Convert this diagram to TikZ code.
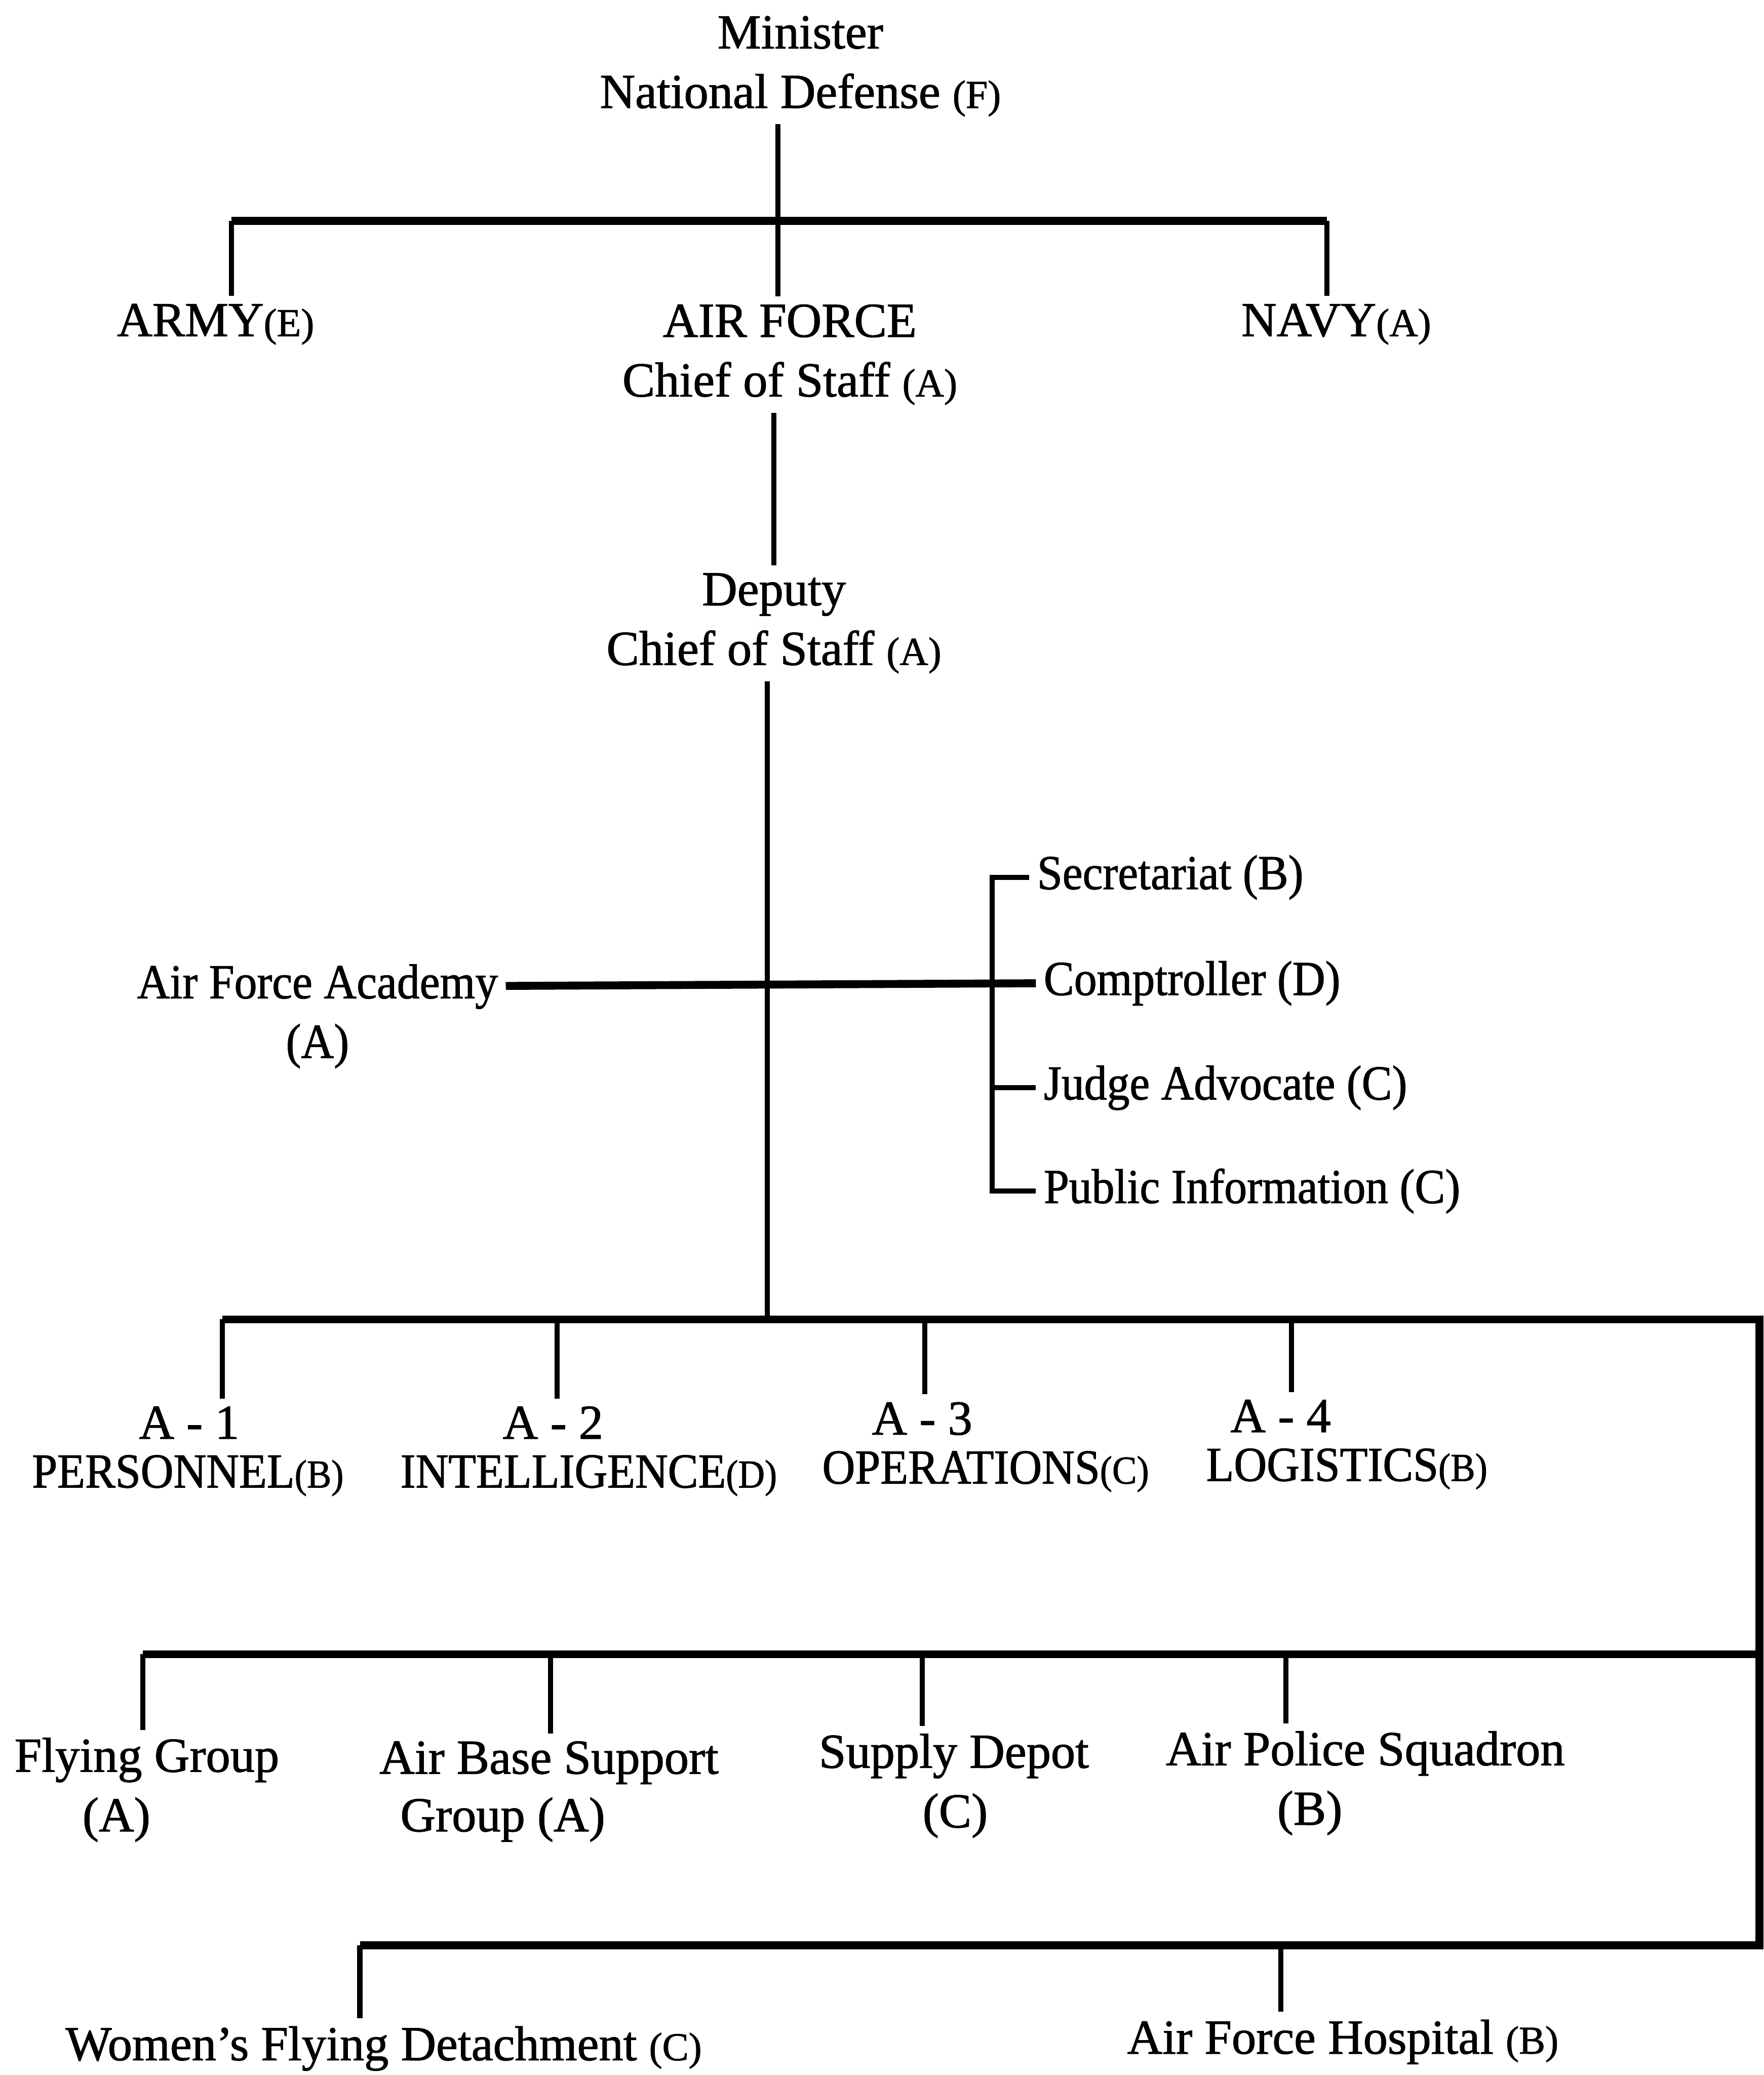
\documentclass[tikz,border=0pt]{standalone}
\usepackage{fontspec}
\setmainfont{Liberation Serif}[FakeBold=1.2]
\newfontfamily\cnd{Liberation Serif}[FakeBold=1.2,FakeStretch=0.93]
\newcommand\smp[1]{{\fontsize{8.5}{10}\selectfont #1}}
\tikzset{
  lbl/.style={font=\fontsize{10.5}{12.8}\selectfont, inner sep=1.5pt},
  clbl/.style={font=\cnd\fontsize{10.5}{12.8}\selectfont, inner sep=1.5pt},
  link/.style={line width=1.1pt},
  bus/.style={line width=1.7pt},
}
\begin{document}
\begin{tikzpicture}[x=0.01cm,y=-0.01cm]
\useasboundingbox (0,0) rectangle (1333,1568);
% nodes
\node[lbl,align=center] (min) at (605,50) {Minister\\National Defense \smp{(F)}};
\node[lbl] (army) at (163,245) {ARMY\smp{(E)}};
\node[lbl,align=center] (af) at (597,268) {AIR FORCE\\Chief of Staff \smp{(A)}};
\node[lbl] (navy) at (1010,245) {NAVY\smp{(A)}};
\node[lbl,align=center] (dep) at (585,471) {Deputy\\Chief of Staff \smp{(A)}};
\node[clbl,align=center] (acad) at (240,768) {Air Force Academy\\(A)};
\node[clbl,anchor=west] (sec) at (778,663) {Secretariat (B)};
\node[clbl,anchor=west] (comp) at (783,743) {Comptroller (D)};
\node[clbl,anchor=west] (judge) at (783,822) {Judge Advocate (C)};
\node[clbl,anchor=west] (pub) at (783,900) {Public Information (C)};
\node[lbl] (a1) at (143,1075) {A - 1};
\node[clbl] (a1n) at (142,1115) {PERSONNEL\smp{(B)}};
\node[lbl] (a2) at (418,1075) {A - 2};
\node[clbl] (a2n) at (445,1115) {INTELLIGENCE\smp{(D)}};
\node[lbl] (a3) at (697,1072) {A - 3};
\node[clbl] (a3n) at (745,1112) {OPERATIONS\smp{(C)}};
\node[lbl] (a4) at (968,1070) {A - 4};
\node[clbl] (a4n) at (1018,1110) {LOGISTICS\smp{(B)}};
\node[lbl] (fly) at (111,1330) {Flying Group};
\node[lbl] (flyb) at (88,1375) {(A)};
\node[lbl] (base) at (415,1332) {Air Base Support};
\node[lbl] (baseb) at (380,1375) {Group (A)};
\node[lbl] (sup) at (721,1327) {Supply Depot};
\node[lbl] (supb) at (722,1372) {(C)};
\node[lbl] (pol) at (1032,1325) {Air Police Squadron};
\node[lbl] (polb) at (990,1370) {(B)};
\node[lbl] (wom) at (290,1548) {Women's Flying Detachment \smp{(C)}};
\node[lbl] (hosp) at (1015,1543) {Air Force Hospital \smp{(B)}};
% junctions
\coordinate (t0) at (588,167);
\coordinate (tL) at (175,167);
\coordinate (tR) at (1003,167);
\coordinate (c1) at (585,400);
\coordinate (m) at (580,997);
\coordinate (br) at (750,745);
\coordinate (b2L) at (168,997);
\coordinate (b2R) at (1330,997);
\coordinate (b3L) at (108,1250);
\coordinate (b3R) at (1330,1250);
\coordinate (b4L) at (272,1470);
\coordinate (b4R) at (1330,1470);
\coordinate (j2) at (421,997);
\coordinate (j3) at (699,997);
\coordinate (j4) at (976,997);
\coordinate (k2) at (416,1250);
\coordinate (k3) at (697,1250);
\coordinate (k4) at (972,1250);
\coordinate (h2) at (968,1470);
% top level
\draw[link] (min.south -| t0) -- (t0 |- af.north);
\draw[bus] (tL) -- (tR);
\draw[link] (tL) -- (tL |- army.north);
\draw[link] (tR) -- (tR |- navy.north);
\draw[link] (af.south -| c1) -- (c1 |- dep.north);
\draw[link] (dep.south -| m) -- (m);
% staff
\draw[bus] (acad.east |- br) -- (comp.west);
\draw[link] (sec.west) -| (br |- pub.west) -- (pub.west);
\draw[link] (br |- judge.west) -- (judge.west);
% buses
\draw[bus] (b2L) -- (b2R) -- (b4R) -- (b4L);
\draw[bus] (b3R) -- (b3L);
% drops
\draw[link] (b2L) -- (b2L |- a1.north);
\draw[link] (j2) -- (j2 |- a2.north);
\draw[link] (j3) -- (j3 |- a3.north);
\draw[link] (j4) -- (j4 |- a4.north);
\draw[link] (b3L) -- (b3L |- fly.north);
\draw[link] (k2) -- (k2 |- base.north);
\draw[link] (k3) -- (k3 |- sup.north);
\draw[link] (k4) -- (k4 |- pol.north);
\draw[link] (b4L) -- (b4L |- wom.north);
\draw[link] (h2) -- (h2 |- hosp.north);
\end{tikzpicture}
\end{document}
